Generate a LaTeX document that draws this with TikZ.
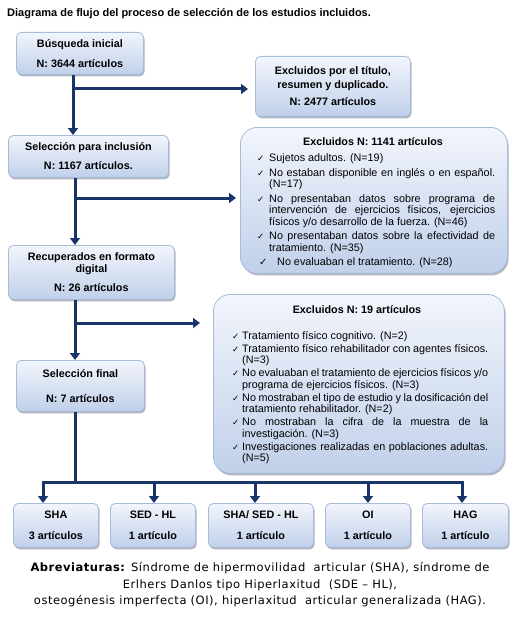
\documentclass[tikz,border=0pt]{standalone}
\usepackage{fontspec}
\setmainfont{Liberation Sans}
\newfontfamily\dejavu{DejaVu Sans}
\newfontfamily\dejavuwide[LetterSpace=4.5]{DejaVu Sans}
\usetikzlibrary{arrows.meta}
\definecolor{navy}{RGB}{24,52,104}
\definecolor{boxtop}{RGB}{242,245,252}
\definecolor{boxbot}{RGB}{192,208,234}
\definecolor{boxline}{RGB}{168,188,218}
\definecolor{shadowgray}{RGB}{178,182,192}
\newcommand{\chk}{{\dejavu\fontsize{8.5}{8.5}\selectfont ✓}}
\newcommand{\litem}[2]{\par\noindent\hangindent=#1\hangafter=1\makebox[#1][l]{\chk}\ignorespaces #2}
\tikzset{
  flowbox/.style={draw=boxline, line width=0.8pt, rounded corners=5pt,
    preaction={fill=shadowgray, draw=none, transform canvas={shift={(1.2pt,-2pt)}}},
    top color=boxtop, bottom color=boxbot,
    anchor=north west, inner sep=0pt, align=center,
    font=\bfseries\fontsize{10.8}{12}\selectfont},
  bigbox/.style={flowbox, rounded corners=17pt},
  titletext/.style={font=\bfseries\fontsize{10.8}{12}\selectfont, inner sep=0pt},
  listtext/.style={font=\fontsize{10.8}{11.5}\selectfont, align=justify,
    inner sep=0pt, anchor=north west},
  arr/.style={draw=navy, line width=3pt, -{Triangle[length=7pt,width=10pt]}},
  ln/.style={draw=navy, line width=3pt},
}
\begin{document}
\begin{tikzpicture}[x=1pt,y=-1pt]
\useasboundingbox[fill=white] (0,0) rectangle (514,623);

\node[anchor=west, inner sep=0pt, font=\bfseries\fontsize{11}{13}\selectfont] (title) at (7,14)
  {Diagrama de flujo del proceso de selección de los estudios incluidos.};

% main column
\node[flowbox, minimum width=127pt, minimum height=42pt] (b1) at (16,32)
  {Búsqueda inicial\\[8pt]N: 3644 artículos};
\node[flowbox, minimum width=155pt, minimum height=60pt] (b2) at (255,56)
  {Excluidos por el título,\\[2pt]resumen y duplicado.\\[5pt]N: 2477 artículos};
\node[flowbox, minimum width=160pt, minimum height=42pt] (b3) at (8,135)
  {Selección para inclusión\\[7pt]N: 1167 artículos.};
\node[flowbox, minimum width=166pt, minimum height=54pt] (b5) at (8,245)
  {Recuperados en formato\\digital\\[7pt]N: 26 artículos};
\node[flowbox, minimum width=128pt, minimum height=51pt] (b7) at (16,360)
  {Selección final\\[13pt]N: 7 artículos};

% exclusion box 1141
\node[bigbox, minimum width=267pt, minimum height=146pt] (b4) at (240,127) {};
\node[titletext] (b4t) at (373,142) {Excluidos N: 1141 artículos};
\node[listtext, text width=238pt] (b4c) at (257,147) {\setlength{\parskip}{3pt}%
  \litem{12pt}{Sujetos adultos. (N=19)}
  \litem{12pt}{No estaban disponible en inglés o en español. (N=17)}
  \litem{12pt}{No presentaban datos sobre programa de\linebreak intervención de ejercicios físicos, ejercicios\linebreak físicos y/o desarrollo de la fuerza. (N=46)}
  \litem{12pt}{No presentaban datos sobre la efectividad de\linebreak tratamiento. (N=35)}
  \par\noindent\hspace*{2pt}\makebox[18pt][l]{{\dejavu\fontsize{10}{10}\selectfont ✓}}No evaluaban el tratamiento. (N=28)\par};

% exclusion box 19
\node[bigbox, minimum width=291pt, minimum height=179pt] (b6) at (213,294) {};
\node[titletext] (b6t) at (357,310) {Excluidos N: 19 artículos};
\node[listtext, text width=256pt] (b6c) at (232,326) {\setlength{\parskip}{1.5pt}%
  \litem{10pt}{Tratamiento físico cognitivo. (N=2)}
  \litem{10pt}{Tratamiento físico rehabilitador con agentes físicos.\linebreak (N=3)}
  \litem{10pt}{No evaluaban el tratamiento de ejercicios físicos y/o\linebreak programa de ejercicios físicos. (N=3)}
  \litem{10pt}{No mostraban el tipo de estudio y la dosificación del\linebreak tratamiento rehabilitador. (N=2)}
  \litem{10pt}{No mostraban la cifra de la muestra de la\linebreak investigación. (N=3)}
  \litem{10pt}{Investigaciones realizadas en poblaciones adultas.\linebreak (N=5)}\par};

% bottom boxes
\node[flowbox, minimum width=85pt, minimum height=44pt] (s1) at (13,503) {SHA\\[9pt]3 artículos};
\node[flowbox, minimum width=85pt, minimum height=44pt] (s2) at (110,503) {SED - HL\\[9pt]1 artículo};
\node[flowbox, minimum width=105pt, minimum height=44pt] (s3) at (208,503) {SHA/ SED - HL\\[9pt]1 artículo};
\node[flowbox, minimum width=85pt, minimum height=44pt] (s4) at (325,503) {OI\\[9pt]1 artículo};
\node[flowbox, minimum width=86pt, minimum height=44pt] (s5) at (422,503) {HAG\\[9pt]1 artículo};

% connectors
\coordinate (t1) at (73,89);
\coordinate (t2) at (75,198);
\coordinate (t3) at (75,323);
\coordinate (h) at (75,482);
\coordinate (d1) at (43,482);
\coordinate (d2) at (154,482);
\coordinate (d3) at (255,482);
\coordinate (d4) at (368,482);
\coordinate (d5) at (462,482);

\draw[arr] (b1.south -| t1) -- (b3.north -| t1);
\draw[arr, shorten >=7pt] (t1) -- (b2.west |- t1);
\draw[arr] (b3.south -| t2) -- (b5.north -| t2);
\draw[arr, shorten >=4pt] (t2) -- (b4.west |- t2);
\draw[arr] (b5.south -| t3) -- (b7.north -| t3);
\draw[arr, shorten >=13pt] (t3) -- (b6.west |- t3);
\draw[ln] (b7.south -| h) -- (h);
\draw[ln, line cap=rect] (d1) -- (d5);
\draw[arr] (d1) -- (s1.north -| d1);
\draw[arr] (d2) -- (s2.north -| d2);
\draw[arr] (d3) -- (s3.north -| d3);
\draw[arr] (d4) -- (s4.north -| d4);
\draw[arr] (d5) -- (s5.north -| d5);

% abbreviations
\node[inner sep=0pt, align=center, font=\dejavuwide\fontsize{11.5}{16.5}\selectfont] (abbr) at (260,585)
  {\textbf{Abreviaturas:} Síndrome de hipermovilidad\ \ articular (SHA), síndrome de\\
   Erlhers Danlos tipo Hiperlaxitud\ \ (SDE – HL),\\
   osteogénesis imperfecta (OI), hiperlaxitud\ \ articular generalizada (HAG).};
\end{tikzpicture}
\end{document}
